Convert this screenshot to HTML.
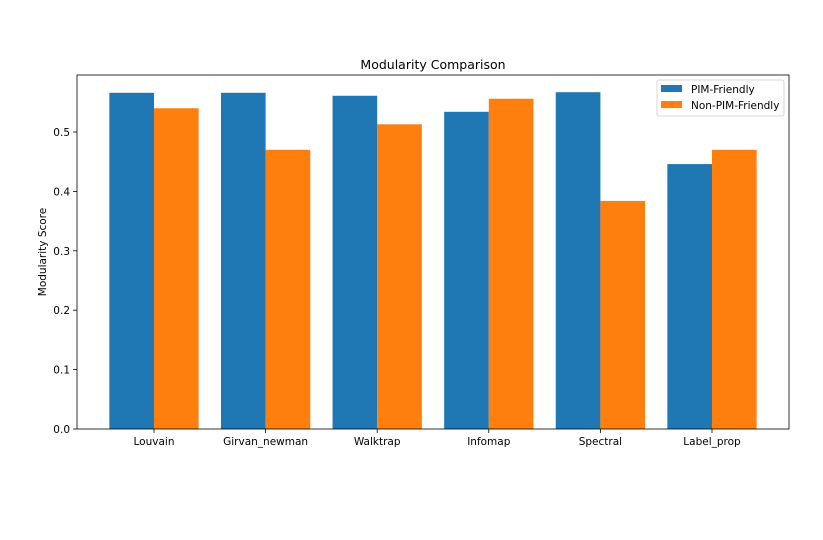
<!DOCTYPE html>
<html><head><meta charset="utf-8"><style>body{margin:0;background:#fff}svg{display:block;font-family:"DejaVu Sans","Liberation Sans",sans-serif}</style></head>
<body>
<svg id="chart" width="823" height="540" xmlns="http://www.w3.org/2000/svg"></svg>
<script>
const categories=["Louvain","Girvan_newman","Walktrap","Infomap","Spectral","Label_prop"];
const pimValues=[0.566,0.566,0.561,0.534,0.567,0.446];
const nonPimValues=[0.540,0.470,0.513,0.556,0.384,0.470];
const yTicks=[0.0,0.1,0.2,0.3,0.4,0.5];
const yTickLabels=["0.0","0.1","0.2","0.3","0.4","0.5"];
const L=77,R=789,T=75,B=429;
const xmin=-0.69,xmax=5.69;
const x=v=>L+(v-xmin)/(xmax-xmin)*(R-L);
const y=v=>B-v*594;
const svg=document.getElementById('chart');
const NS="http://www.w3.org/2000/svg";
function mk(tag,attrs,parent){const e=document.createElementNS(NS,tag);for(const k in attrs)e.setAttribute(k,attrs[k]);(parent||svg).appendChild(e);return e;}
const bw=0.4;
categories.forEach((c,i)=>{
  const b1=mk('rect',{x:x(i-bw),y:y(pimValues[i]),width:x(i)-x(i-bw),height:B-y(pimValues[i]),fill:'#1f77b4'});
  
  
  const b2=mk('rect',{x:x(i),y:y(nonPimValues[i]),width:x(i+bw)-x(i),height:B-y(nonPimValues[i]),fill:'#ff7f0e'});
  
  
  mk('line',{x1:x(i),x2:x(i),y1:B,y2:B+4,stroke:'#000','stroke-width':0.8});
  const t=mk('text',{x:x(i),y:B+16,'text-anchor':'middle','font-size':10.5,fill:'#000'});
  t.textContent=c;
  
  
});
yTicks.forEach((v,i)=>{
  mk('line',{x1:L-4,x2:L,y1:y(v),y2:y(v),stroke:'#000','stroke-width':0.8});
  const t=mk('text',{x:L-7,y:y(v)+4,'text-anchor':'end','font-size':10.5,fill:'#000'});
  t.textContent=yTickLabels[i];
  
  
});
const ax=mk('rect',{x:L,y:T,width:R-L,height:B-T,fill:'none',stroke:'#000','stroke-width':0.8});


const title=mk('text',{x:(L+R)/2,y:69,'text-anchor':'middle','font-size':12.5,fill:'#000'});
title.textContent='Modularity Comparison';


const yt=mk('text',{x:46,y:252,'text-anchor':'middle','font-size':10.5,fill:'#000',transform:'rotate(-90 46 252)'});
yt.textContent='Modularity Score';


const lg=mk('g',{});


mk('rect',{x:657,y:80,width:127,height:36,rx:2,fill:'#fff','fill-opacity':0.8,stroke:'#ccc','stroke-width':0.8},lg);
mk('rect',{x:661,y:85,width:21,height:7,fill:'#1f77b4'},lg);
mk('rect',{x:661,y:101,width:21,height:7,fill:'#ff7f0e'},lg);
const l1=mk('text',{x:691,y:93,'font-size':10.5,fill:'#000'},lg);l1.textContent='PIM-Friendly';


const l2=mk('text',{x:691,y:109,'font-size':10.5,fill:'#000'},lg);l2.textContent='Non-PIM-Friendly';


</script>
</body></html>
